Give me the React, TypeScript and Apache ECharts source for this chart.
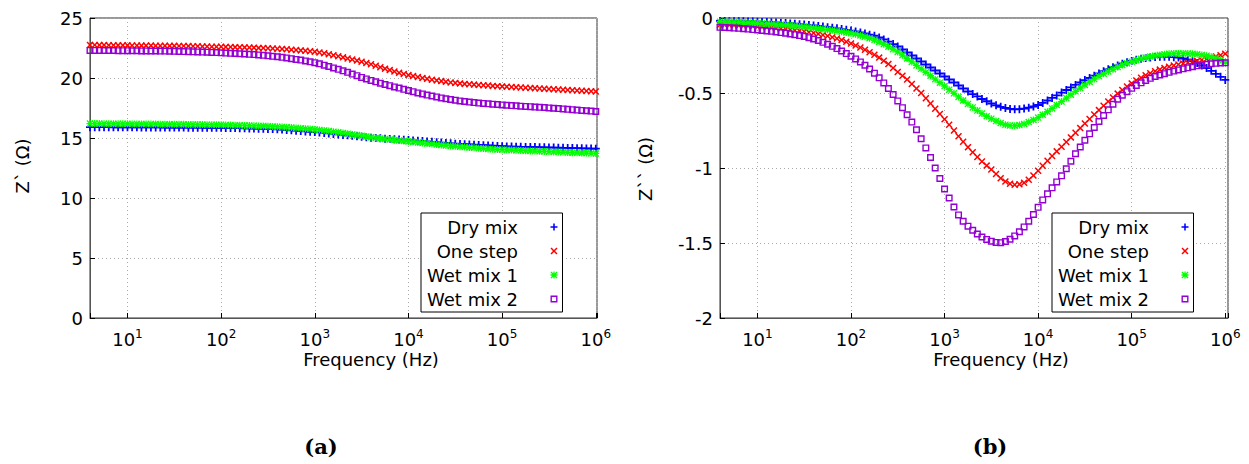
import React, { useEffect, useRef } from 'react';
import * as echarts from 'echarts';

// Frequency sweep (Hz), 20 points per decade
const FREQ_HZ = [
  3.98, 4.47, 5.01, 5.62, 6.31, 7.08, 7.94, 8.91,
  10, 11.2, 12.6, 14.1, 15.8, 17.8, 20.0, 22.4, 25.1, 28.2, 31.6, 35.5, 39.8, 44.7, 50.1, 56.2, 63.1, 70.8, 79.4, 89.1,
  100, 112, 126, 141, 158, 178, 200, 224, 251, 282, 316, 355, 398, 447, 501, 562, 631, 708, 794, 891,
  1000, 1120, 1260, 1410, 1580, 1780, 2000, 2240, 2510, 2820, 3160, 3550, 3980, 4470, 5010, 5620, 6310, 7080, 7940, 8910,
  10000, 11200, 12600, 14100, 15800, 17800, 20000, 22400, 25100, 28200, 31600, 35500, 39800, 44700, 50100, 56200, 63100, 70800, 79400, 89100,
  100000, 112000, 126000, 141000, 158000, 178000, 200000, 224000, 251000, 282000, 316000, 355000, 398000, 447000, 501000, 562000, 631000, 708000, 794000, 891000,
  1000000,
];

const SERIES_NAMES = ['Dry mix', 'One step', 'Wet mix 1', 'Wet mix 2'];

// (a) Z' (Ohm)
const DRY_RE = [
  15.90, 15.90, 15.90, 15.90, 15.90, 15.89, 15.89, 15.89, 15.89,
  15.89, 15.89, 15.88, 15.88, 15.88, 15.88, 15.88, 15.87, 15.87, 15.87,
  15.87, 15.87, 15.86, 15.86, 15.86, 15.86, 15.85, 15.85, 15.85, 15.85,
  15.84, 15.84, 15.83, 15.82, 15.81, 15.80, 15.79, 15.78, 15.77, 15.76,
  15.74, 15.72, 15.70, 15.67, 15.64, 15.61, 15.58, 15.55, 15.52, 15.49,
  15.46, 15.42, 15.38, 15.34, 15.30, 15.26, 15.22, 15.18, 15.14, 15.10,
  15.06, 15.03, 15.00, 14.97, 14.94, 14.91, 14.89, 14.87, 14.85, 14.83,
  14.80, 14.77, 14.74, 14.71, 14.68, 14.65, 14.62, 14.59, 14.56, 14.53,
  14.50, 14.48, 14.46, 14.44, 14.42, 14.40, 14.38, 14.36, 14.34, 14.32,
  14.30, 14.29, 14.28, 14.27, 14.26, 14.25, 14.24, 14.23, 14.22, 14.21,
  14.20, 14.19, 14.18, 14.17, 14.16, 14.15, 14.14, 14.13, 14.12, 14.11,
];
const ONE_RE = [
  22.75, 22.75, 22.74, 22.74, 22.73, 22.73, 22.72, 22.72, 22.72,
  22.71, 22.71, 22.70, 22.70, 22.70, 22.69, 22.69, 22.69, 22.68, 22.68,
  22.67, 22.67, 22.66, 22.65, 22.64, 22.63, 22.62, 22.61, 22.60, 22.60,
  22.59, 22.58, 22.57, 22.56, 22.55, 22.54, 22.53, 22.51, 22.50, 22.48,
  22.46, 22.44, 22.42, 22.39, 22.36, 22.33, 22.30, 22.27, 22.23, 22.19,
  22.13, 22.06, 21.98, 21.90, 21.81, 21.72, 21.63, 21.54, 21.45, 21.36,
  21.25, 21.14, 21.02, 20.90, 20.78, 20.66, 20.54, 20.43, 20.33, 20.24,
  20.16, 20.08, 20.00, 19.93, 19.86, 19.80, 19.74, 19.68, 19.63, 19.59,
  19.55, 19.51, 19.48, 19.45, 19.42, 19.39, 19.37, 19.34, 19.32, 19.30,
  19.28, 19.25, 19.23, 19.21, 19.19, 19.17, 19.15, 19.12, 19.10, 19.08,
  19.06, 19.04, 19.02, 19.00, 18.98, 18.96, 18.94, 18.92, 18.90, 18.88,
];
const WET1_RE = [
  16.20, 16.20, 16.20, 16.19, 16.19, 16.19, 16.18, 16.18, 16.18,
  16.17, 16.17, 16.17, 16.16, 16.16, 16.16, 16.15, 16.15, 16.15, 16.14,
  16.14, 16.14, 16.13, 16.13, 16.12, 16.12, 16.11, 16.11, 16.10, 16.10,
  16.09, 16.08, 16.07, 16.06, 16.05, 16.04, 16.03, 16.01, 16.00, 15.98,
  15.96, 15.94, 15.92, 15.90, 15.87, 15.84, 15.81, 15.78, 15.75, 15.71,
  15.67, 15.63, 15.58, 15.53, 15.48, 15.42, 15.36, 15.30, 15.24, 15.18,
  15.12, 15.06, 15.01, 14.96, 14.91, 14.87, 14.83, 14.79, 14.75, 14.71,
  14.67, 14.63, 14.58, 14.54, 14.50, 14.46, 14.42, 14.38, 14.34, 14.31,
  14.27, 14.24, 14.21, 14.18, 14.15, 14.12, 14.09, 14.07, 14.05, 14.03,
  14.01, 13.99, 13.97, 13.96, 13.94, 13.92, 13.91, 13.89, 13.88, 13.86,
  13.84, 13.83, 13.81, 13.80, 13.78, 13.77, 13.75, 13.74, 13.72, 13.71,
];
const WET2_RE = [
  22.30, 22.30, 22.30, 22.29, 22.29, 22.29, 22.28, 22.28, 22.28,
  22.27, 22.27, 22.26, 22.26, 22.25, 22.25, 22.24, 22.24, 22.23, 22.22,
  22.21, 22.20, 22.19, 22.18, 22.17, 22.16, 22.15, 22.13, 22.12, 22.10,
  22.08, 22.06, 22.04, 22.02, 22.00, 21.97, 21.95, 21.92, 21.89, 21.85,
  21.81, 21.77, 21.72, 21.67, 21.61, 21.55, 21.49, 21.42, 21.35, 21.28,
  21.18, 21.07, 20.96, 20.84, 20.72, 20.60, 20.47, 20.33, 20.19, 20.05,
  19.92, 19.80, 19.68, 19.57, 19.46, 19.36, 19.26, 19.16, 19.06, 18.96,
  18.86, 18.76, 18.67, 18.58, 18.50, 18.42, 18.34, 18.27, 18.21, 18.15,
  18.09, 18.04, 17.99, 17.95, 17.91, 17.88, 17.85, 17.82, 17.79, 17.76,
  17.73, 17.70, 17.68, 17.65, 17.63, 17.61, 17.58, 17.56, 17.54, 17.51,
  17.48, 17.45, 17.42, 17.39, 17.36, 17.33, 17.30, 17.27, 17.24, 17.21,
];

// (b) Z'' (Ohm)
const DRY_IM = [
  -0.020, -0.020, -0.021, -0.021, -0.022, -0.022, -0.023, -0.024, -0.025,
  -0.026, -0.027, -0.028, -0.030, -0.032, -0.034, -0.036, -0.038, -0.041, -0.044,
  -0.047, -0.050, -0.053, -0.057, -0.061, -0.065, -0.069, -0.074, -0.079, -0.084,
  -0.090, -0.096, -0.103, -0.111, -0.118, -0.130, -0.143, -0.158, -0.174, -0.190,
  -0.210, -0.230, -0.250, -0.270, -0.290, -0.310, -0.330, -0.350, -0.370, -0.390,
  -0.410, -0.430, -0.450, -0.470, -0.490, -0.507, -0.523, -0.540, -0.555, -0.570,
  -0.582, -0.592, -0.600, -0.606, -0.609, -0.608, -0.604, -0.598, -0.590, -0.580,
  -0.566, -0.550, -0.533, -0.516, -0.497, -0.480, -0.463, -0.446, -0.430, -0.414,
  -0.400, -0.385, -0.370, -0.355, -0.341, -0.328, -0.316, -0.305, -0.295, -0.286,
  -0.278, -0.272, -0.267, -0.263, -0.260, -0.258, -0.258, -0.259, -0.261, -0.264,
  -0.270, -0.278, -0.288, -0.300, -0.316, -0.334, -0.352, -0.372, -0.392, -0.413,
];
const ONE_IM = [
  -0.045, -0.046, -0.047, -0.048, -0.050, -0.051, -0.053, -0.055, -0.058,
  -0.060, -0.062, -0.065, -0.068, -0.071, -0.074, -0.078, -0.082, -0.086, -0.090,
  -0.095, -0.100, -0.106, -0.113, -0.120, -0.128, -0.137, -0.147, -0.158, -0.170,
  -0.183, -0.197, -0.212, -0.228, -0.245, -0.264, -0.285, -0.307, -0.333, -0.360,
  -0.385, -0.410, -0.440, -0.470, -0.500, -0.535, -0.570, -0.605, -0.640, -0.675,
  -0.712, -0.750, -0.788, -0.825, -0.861, -0.895, -0.927, -0.957, -0.984, -1.010,
  -1.040, -1.068, -1.090, -1.105, -1.112, -1.109, -1.098, -1.078, -1.050, -1.018,
  -0.985, -0.952, -0.920, -0.889, -0.858, -0.827, -0.796, -0.765, -0.734, -0.703,
  -0.673, -0.643, -0.614, -0.585, -0.557, -0.530, -0.504, -0.480, -0.457, -0.436,
  -0.416, -0.398, -0.382, -0.368, -0.355, -0.344, -0.334, -0.325, -0.317, -0.310,
  -0.304, -0.298, -0.292, -0.286, -0.280, -0.273, -0.265, -0.257, -0.248, -0.238,
];
const WET1_IM = [
  -0.025, -0.026, -0.027, -0.028, -0.029, -0.030, -0.031, -0.033, -0.035,
  -0.037, -0.039, -0.041, -0.043, -0.045, -0.047, -0.050, -0.053, -0.056, -0.059,
  -0.062, -0.066, -0.070, -0.074, -0.078, -0.082, -0.086, -0.091, -0.096, -0.101,
  -0.108, -0.116, -0.125, -0.135, -0.147, -0.160, -0.175, -0.191, -0.208, -0.226,
  -0.248, -0.270, -0.293, -0.316, -0.339, -0.362, -0.385, -0.408, -0.431, -0.454,
  -0.478, -0.502, -0.526, -0.550, -0.573, -0.596, -0.617, -0.637, -0.655, -0.671,
  -0.687, -0.700, -0.711, -0.717, -0.718, -0.714, -0.706, -0.694, -0.680, -0.664,
  -0.645, -0.625, -0.603, -0.580, -0.557, -0.534, -0.511, -0.489, -0.467, -0.446,
  -0.426, -0.407, -0.389, -0.372, -0.356, -0.341, -0.327, -0.314, -0.302, -0.291,
  -0.281, -0.272, -0.264, -0.257, -0.251, -0.246, -0.242, -0.239, -0.237, -0.236,
  -0.236, -0.237, -0.239, -0.242, -0.246, -0.251, -0.258, -0.268, -0.280, -0.295,
];
const WET2_IM = [
  -0.062, -0.063, -0.065, -0.067, -0.069, -0.071, -0.074, -0.077, -0.080,
  -0.083, -0.086, -0.089, -0.093, -0.097, -0.101, -0.106, -0.111, -0.117, -0.123,
  -0.131, -0.140, -0.150, -0.162, -0.175, -0.189, -0.204, -0.220, -0.237, -0.255,
  -0.273, -0.293, -0.315, -0.340, -0.368, -0.399, -0.433, -0.470, -0.510, -0.553,
  -0.598, -0.645, -0.694, -0.745, -0.805, -0.866, -0.930, -1.000, -1.070, -1.140,
  -1.200, -1.260, -1.313, -1.355, -1.388, -1.415, -1.440, -1.460, -1.476, -1.488,
  -1.496, -1.498, -1.490, -1.475, -1.453, -1.425, -1.393, -1.355, -1.310, -1.262,
  -1.213, -1.172, -1.132, -1.093, -1.052, -1.005, -0.955, -0.905, -0.860, -0.815,
  -0.772, -0.730, -0.690, -0.650, -0.612, -0.575, -0.541, -0.515, -0.491, -0.469,
  -0.450, -0.432, -0.416, -0.402, -0.390, -0.380, -0.371, -0.362, -0.354, -0.346,
  -0.339, -0.332, -0.325, -0.319, -0.314, -0.309, -0.305, -0.302, -0.300, -0.299,
];

const RE_SERIES = [DRY_RE, ONE_RE, WET1_RE, WET2_RE];
const IM_SERIES = [DRY_IM, ONE_IM, WET1_IM, WET2_IM];

const COLORS = ['#0000ff', '#ff0000', '#00ff00', '#9400d3'];
const SYMBOLS = [
  'path://M3.9,0H6.1V3.9H10V6.1H6.1V10H3.9V6.1H0V3.9H3.9Z',
  'path://M0,1.5L1.5,0L5,3.5L8.5,0L10,1.5L6.5,5L10,8.5L8.5,10L5,6.5L1.5,10L0,8.5L3.5,5Z',
  'path://M4.1,0H5.9V10H4.1Z M0,4.1H10V5.9H0Z M0,1.3L1.3,0L10,8.7L8.7,10Z M8.7,0L10,1.3L1.3,10L0,8.7Z',
  'path://M0,0H10V10H0Z M2,2V8H8V2Z',
];
const SYMBOL_SIZES = [8, 7, 7, 7];

const FONT = 'DejaVu Sans';

function xAxisFor(gridIndex: number, max: number) {
  return {
    type: 'log',
    logBase: 10,
    gridIndex,
    min: 3.98,
    max,
    axisLine: { show: true, onZero: false, lineStyle: { color: '#555', width: 1 } },
    axisTick: { show: true, inside: true, length: 5, lineStyle: { color: '#000', width: 1 } },
    minorTick: { show: false },
    splitLine: { show: true, lineStyle: { color: '#aaa', width: 1, type: [1, 3] } },
    axisLabel: {
      margin: 10,
      formatter: (v: number) => {
        const p = Math.log10(v);
        const e = Math.round(p);
        return Math.abs(p - e) < 1e-6 ? `{b|10}{s|${e}}` : '';
      },
      rich: {
        b: { fontSize: 18, fontFamily: FONT, color: '#000', lineHeight: 22 },
        s: { fontSize: 12, fontFamily: FONT, color: '#000', lineHeight: 12, verticalAlign: 'top' },
      },
    },
  };
}

function yAxisFor(gridIndex: number, min: number, max: number, interval: number) {
  return {
    type: 'value',
    gridIndex,
    min,
    max,
    interval,
    axisLine: { show: true, onZero: false, lineStyle: { color: '#555', width: 1 } },
    axisTick: { show: true, inside: true, length: 5, lineStyle: { color: '#000', width: 1 } },
    splitLine: { show: true, lineStyle: { color: '#aaa', width: 1, type: [1, 3] } },
    axisLabel: { margin: 7, fontSize: 18, fontFamily: FONT, color: '#000' },
  };
}

function seriesFor(gridIndex: number, values: number[][]) {
  return SERIES_NAMES.map((name, k) => ({
    name,
    type: 'scatter',
    xAxisIndex: gridIndex,
    yAxisIndex: gridIndex,
    symbol: SYMBOLS[k],
    symbolSize: SYMBOL_SIZES[k],
    clip: false,
    silent: true,
    itemStyle: { color: COLORS[k], opacity: 1 },
    data: FREQ_HZ.map((f, i) => [f, values[k][i]]),
  }));
}

function legendFor(left: number) {
  return {
    orient: 'vertical',
    left,
    top: 213,
    align: 'right',
    data: SERIES_NAMES,
    itemWidth: 62,
    itemHeight: 7,
    itemGap: 4,
    padding: [4, 5, 3, 6],
    backgroundColor: '#fff',
    borderColor: '#000',
    borderWidth: 1,
    borderRadius: 0,
    selectedMode: false,
    symbolKeepAspect: true,
    textStyle: { fontFamily: FONT, fontSize: 18, color: '#000', width: 91, lineHeight: 20, align: 'right' },
  };
}

function text(x: number, y: number, t: string, font: string, rotation = 0) {
  return {
    type: 'text',
    x,
    y,
    rotation,
    silent: true,
    style: { text: t, font, fill: '#000', align: 'center', verticalAlign: 'middle' },
  };
}

export default function App() {
  const ref = useRef<HTMLDivElement>(null);
  useEffect(() => {
    if (!ref.current) return;
    const chart = echarts.init(ref.current, undefined, { renderer: 'svg' });
    chart.setOption({
      animation: false,
      backgroundColor: '#fff',
      grid: [
        { left: 90, top: 18, width: 507, height: 300, show: true, borderColor: '#333', borderWidth: 1, containLabel: false },
        { left: 720, top: 18, width: 508, height: 300, show: true, borderColor: '#333', borderWidth: 1, containLabel: false },
      ],
      xAxis: [xAxisFor(0, 1.03e6), xAxisFor(1, 1.07e6)],
      yAxis: [yAxisFor(0, 0, 25, 5), yAxisFor(1, -2, 0, 0.5)],
      legend: [legendFor(421), legendFor(1052)],
      series: [...seriesFor(0, RE_SERIES), ...seriesFor(1, IM_SERIES)],
      graphic: [
        text(22, 166, 'Z` (Ω)', `18px "${FONT}"`, Math.PI / 2),
        text(645, 169, 'Z`` (Ω)', `18px "${FONT}"`, Math.PI / 2),
        text(371, 359.5, 'Frequency (Hz)', `18px "${FONT}"`),
        text(1001, 359.5, 'Frequency (Hz)', `18px "${FONT}"`),
        text(321, 446, '(a)', `bold 21px "DejaVu Serif"`),
        text(990, 446, '(b)', `bold 21px "DejaVu Serif"`),
      ],
    });
    return () => chart.dispose();
  }, []);
  return (
    <div
      ref={ref}
      style={{ position: 'fixed', left: 0, top: 0, width: 1249, height: 464, background: '#fff' }}
    />
  );
}
